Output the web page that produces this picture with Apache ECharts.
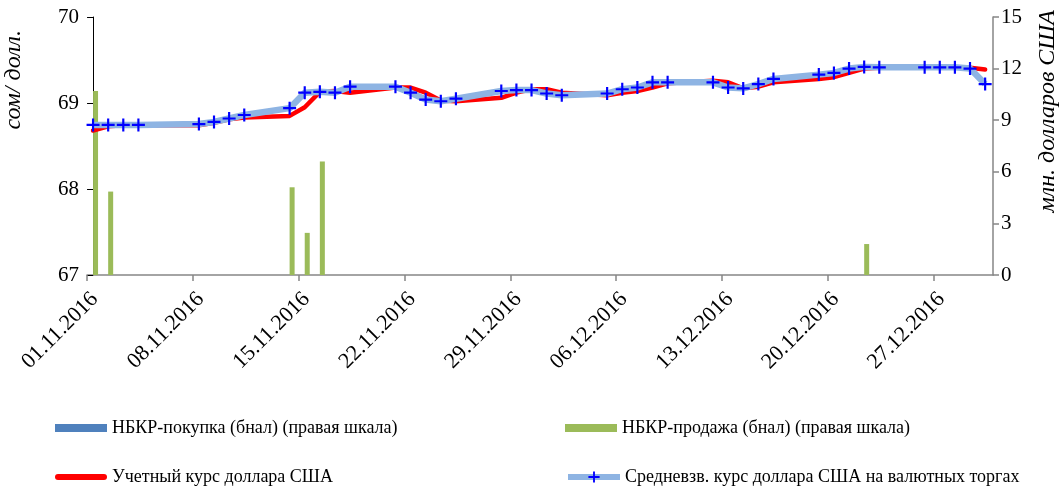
<!DOCTYPE html>
<html>
<head>
<meta charset="utf-8">
<script src="https://cdn.jsdelivr.net/npm/echarts@6/dist/echarts.min.js"></script>
<style>html,body{margin:0;padding:0;background:#fff}#c{width:1062px;height:490px}</style>
</head>
<body>
<div id="c"></div>
<script>
// ---- data ----
const dates = ['01.11.2016','02.11.2016','03.11.2016','04.11.2016','08.11.2016','09.11.2016','10.11.2016','11.11.2016',
  '14.11.2016','15.11.2016','16.11.2016','17.11.2016','18.11.2016','21.11.2016','22.11.2016','23.11.2016','24.11.2016','25.11.2016',
  '28.11.2016','29.11.2016','30.11.2016','01.12.2016','02.12.2016','05.12.2016','06.12.2016','07.12.2016','08.12.2016','09.12.2016',
  '12.12.2016','13.12.2016','14.12.2016','15.12.2016','16.12.2016','19.12.2016','20.12.2016','21.12.2016','22.12.2016','23.12.2016',
  '26.12.2016','27.12.2016','28.12.2016','29.12.2016','30.12.2016'];
const officialRate = [68.68,68.73,68.74,68.74,68.74,68.77,68.81,68.83,
  68.85,68.95,69.13,69.14,69.12,69.18,69.18,69.12,69.03,69.02,
  69.06,69.12,69.16,69.16,69.12,69.09,69.12,69.14,69.18,69.23,
  69.26,69.24,69.17,69.19,69.24,69.28,69.30,69.35,69.40,69.41,
  69.41,69.41,69.41,69.41,69.39];
const avgRate = [68.745,68.745,68.745,68.745,68.755,68.78,68.82,68.86,
  68.94,69.12,69.13,69.12,69.19,69.19,69.12,69.04,69.02,69.05,
  69.14,69.15,69.15,69.11,69.09,69.11,69.16,69.18,69.24,69.24,
  69.24,69.18,69.17,69.22,69.28,69.33,69.35,69.40,69.42,69.415,
  69.415,69.415,69.415,69.40,69.22];
const nbkrSales = [10.7,4.85,null,null,null,null,null,null,
  5.1,2.45,6.6,null,null,null,null,null,null,null,
  null,null,null,null,null,null,null,null,null,null,
  null,null,null,null,null,null,null,null,1.8,null,
  null,null,null,null,null];
const nbkrPurchase = [];
const xTickLabels = ['01.11.2016','08.11.2016','15.11.2016','22.11.2016','29.11.2016','06.12.2016','13.12.2016','20.12.2016','27.12.2016'];
const seriesNames = ['НБКР-покупка (бнал) (правая шкала)','НБКР-продажа (бнал) (правая шкала)','Учетный курс доллара США','Средневзв. курс доллара США на валютных торгах'];

// ---- helpers ----
const base = Date.UTC(2016,10,1);
function dayIdx(s){const p=s.split('.');return Math.round((Date.UTC(+p[2],+p[1]-1,+p[0])-base)/86400000);}
const X0 = -0.4;
const tickVals = xTickLabels.map((s)=>dayIdx(s)+X0);
const FONT = '"Liberation Serif","Times New Roman",serif';
const plus = 'path://M5,0H7V5H12V7H7V12H5V7H0V5H5Z';
const roundBar = 'path://M3,0H49A3,3,0,0,1,49,6H3A3,3,0,0,1,3,0Z';

const salesData = dates.map((d,i)=>nbkrSales[i]==null?null:[dayIdx(d),nbkrSales[i]]).filter(Boolean);
const purchaseData = nbkrPurchase.map((v,i)=>[dayIdx(dates[i]),v]);

function legend(name, left, top, extra){
  return Object.assign({data:[name], left:left, top:top, padding:0, itemWidth:52, itemHeight:8, itemGap:0,
    textStyle:{fontFamily:FONT,fontSize:18,color:'#000'}, selectedMode:false}, extra||{});
}

const chart = echarts.init(document.getElementById('c'));
chart.setOption({
  animation:false,
  grid:{left:87,right:69,top:17,bottom:215,containLabel:false},
  xAxis:{type:'value',min:X0,max:59.52,
    axisLine:{lineStyle:{color:'#868686',width:1.5}},
    splitLine:{show:false},
    axisTick:{customValues:tickVals,length:6,lineStyle:{color:'#868686',width:1.5}},
    axisLabel:{customValues:tickVals,rotate:45,margin:13,verticalAlign:'top',fontFamily:FONT,fontSize:22,color:'#000',
      formatter:(v)=>xTickLabels[Math.round((v-X0)/7)]||''}
  },
  yAxis:[
    {type:'value',min:67,max:70,interval:1,position:'left',
      axisLine:{show:true,lineStyle:{color:'#000',width:1}},
      axisTick:{show:true,length:6,lineStyle:{color:'#000'}},
      splitLine:{show:false},
      axisLabel:{fontFamily:FONT,fontSize:21,color:'#000',margin:8}},
    {type:'value',min:0,max:15,interval:3,position:'right',
      axisLine:{show:true,lineStyle:{color:'#868686',width:1.5}},
      axisTick:{show:true,length:6,lineStyle:{color:'#868686',width:1.5}},
      splitLine:{show:false},
      axisLabel:{fontFamily:FONT,fontSize:21,color:'#000',margin:8}}
  ],
  legend:[
    legend(seriesNames[0],55,419,{icon:'rect'}),
    legend(seriesNames[1],565,419,{icon:'rect'}),
    legend(seriesNames[2],55,468,{icon:roundBar,itemHeight:6}),
    legend(seriesNames[3],565,468,{itemHeight:14,lineStyle:{width:6}})
  ],
  graphic:[
    {type:'text',left:2,top:30,rotation:Math.PI/2,style:{text:'сом/ долл.',font:'italic 24px '+FONT,fill:'#000'}},
    {type:'text',right:2,top:10,rotation:Math.PI/2,style:{text:'млн. долларов США',font:'italic 24px '+FONT,fill:'#000'}}
  ],
  series:[
    {name:seriesNames[0],type:'bar',yAxisIndex:1,data:purchaseData,barWidth:5,barGap:'0%',itemStyle:{color:'#4F81BD'}},
    {name:seriesNames[1],type:'bar',yAxisIndex:1,data:salesData,barWidth:5,barGap:'0%',itemStyle:{color:'#9BBB59'}},
    {name:seriesNames[2],type:'line',yAxisIndex:0,data:dates.map((d,i)=>[dayIdx(d),officialRate[i]]),
      symbol:'none',lineStyle:{color:'#FF0000',width:4.5,cap:'round',join:'round'},itemStyle:{color:'#FF0000'}},
    {name:seriesNames[3],type:'line',yAxisIndex:0,data:dates.map((d,i)=>[dayIdx(d),avgRate[i]]),
      symbol:plus,symbolSize:13,showAllSymbol:true,
      lineStyle:{color:'#8EB4E3',width:6.5,join:'round'},itemStyle:{color:'#0000FF'}}
  ]
});
</script>
</body>
</html>
